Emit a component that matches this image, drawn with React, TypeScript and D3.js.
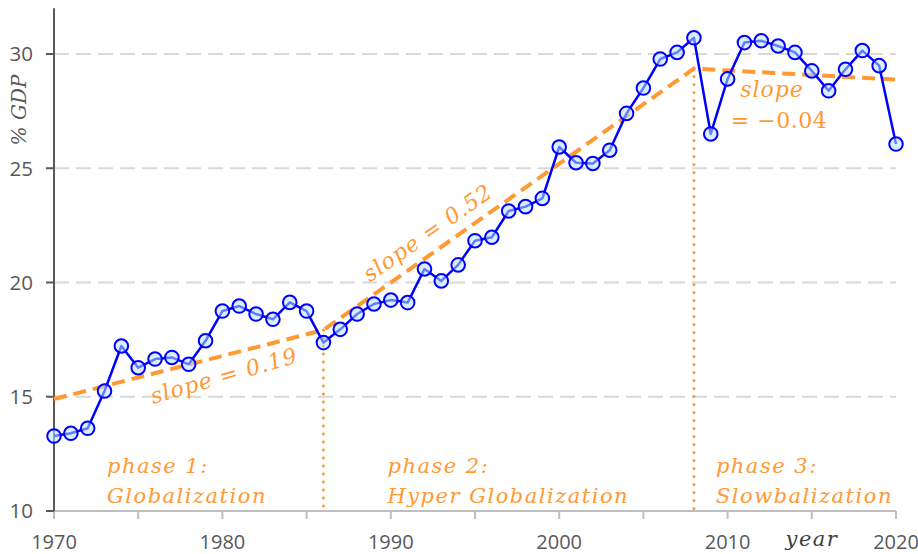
import React from "react";
import * as d3 from "d3";

const years: number[] = d3.range(1970, 2021);
const tradeShare: number[] = [
  13.28, 13.4, 13.62, 15.25, 17.22, 16.27, 16.65, 16.72, 16.42, 17.45,
  18.75, 18.97, 18.62, 18.39, 19.13, 18.75, 17.37, 17.95, 18.62, 19.06,
  19.23, 19.12, 20.59, 20.07, 20.77, 21.83, 21.98, 23.13, 23.32, 23.68,
  25.93, 25.24, 25.21, 25.79, 27.4, 28.51, 29.78, 30.07, 30.71, 26.5,
  28.91, 30.5, 30.58, 30.35, 30.07, 29.26, 28.39, 29.33, 30.15, 29.49,
  26.06,
];
const trendYears: number[] = [1970, 1986, 2008, 2020];
const trendValues: number[] = [14.9, 17.92, 29.36, 28.88];
const phaseBreaks: number[] = [1986, 2008];
const yTicks: number[] = [10, 15, 20, 25, 30];
const xMajorTicks: number[] = [1970, 1980, 1990, 2000, 2010, 2020];
const xMinorTicks: number[] = d3.range(1970, 2021, 5);
const phaseLabels: { year: number; lines: string[] }[] = [
  { year: 1970, lines: ["phase 1:", "Globalization"] },
  { year: 1986, lines: ["phase 2:", "Hyper Globalization"] },
  { year: 2008, lines: ["phase 3:", "Slowbalization"] },
];

const ORANGE = "#ff9933";
const BLUE = "#0000ff";
const AXIS = "#595959";
const SERIF = "'DejaVu Serif', 'Liberation Serif', serif";
const SANS = "'Open Sans', 'Noto Sans', sans-serif";

export default function App() {
  const W = 918;
  const H = 554;
  const x = d3.scaleLinear().domain([1970, 2020]).range([54, 896]);
  const y = d3.scaleLinear().domain([10, 32]).range([511, 8.3]);

  const line = d3
    .line<number>()
    .x((_, i) => x(years[i]))
    .y((d) => y(d));
  const trendLine = d3
    .line<number>()
    .x((_, i) => x(trendYears[i]))
    .y((d) => y(d));

  const trendAt = (yr: number) => trendValues[trendYears.indexOf(yr)];

  const phaseOffsets = [53, 64, 22];

  return (
    <svg
      width={W}
      height={H}
      style={{ position: "absolute", left: 0, top: 0, background: "#fff" }}
    >
      {/* grid */}
      {yTicks
        .filter((t) => t > 10)
        .map((t) => (
          <line
            key={"g" + t}
            x1={x(1970)}
            x2={x(2020)}
            y1={y(t)}
            y2={y(t)}
            stroke="#d9d9d9"
            strokeWidth={2}
            strokeDasharray="15,7"
          />
        ))}

      {/* x axis */}
      <line x1={x(1970)} x2={x(2020)} y1={y(10)} y2={y(10)} stroke="#bfbfbf" strokeWidth={2} />
      {xMinorTicks.map((t) => (
        <line key={"xt" + t} x1={x(t)} x2={x(t)} y1={y(10)} y2={y(10) + 8} stroke="#bfbfbf" strokeWidth={2} />
      ))}
      {xMajorTicks.map((t) => (
        <text
          key={"xl" + t}
          x={x(t)}
          y={549}
          textAnchor="middle"
          fontFamily={SANS}
          fontSize={20}
          fill={AXIS}
        >
          {t}
        </text>
      ))}

      {/* y axis */}
      <line x1={x(1970)} x2={x(1970)} y1={y(32)} y2={y(10)} stroke={AXIS} strokeWidth={2} />
      {yTicks.map((t) => (
        <g key={"yt" + t}>
          <line x1={x(1970) - 8} x2={x(1970)} y1={y(t)} y2={y(t)} stroke={AXIS} strokeWidth={2} />
          <text
            x={33}
            y={y(t)}
            dy="0.36em"
            textAnchor="end"
            fontFamily={SANS}
            fontSize={20.5}
            fill={AXIS}
          >
            {t}
          </text>
        </g>
      ))}

      {/* axis titles */}
      <text
        transform={`translate(26,110) rotate(-90)`}
        textAnchor="middle"
        fontFamily={SERIF}
        fontStyle="italic"
        fontSize={20}
        fill={AXIS}
      >
        % GDP
      </text>
      <text
        x={812}
        y={546}
        textAnchor="middle"
        fontFamily={SERIF}
        fontStyle="italic"
        fontSize={21}
        fill="#404040"
        letterSpacing={1.5}
      >
        year
      </text>

      {/* phase dividers */}
      {phaseBreaks.map((b) => (
        <line
          key={"pb" + b}
          x1={x(b)}
          x2={x(b)}
          y1={y(trendAt(b))}
          y2={y(10)}
          stroke={ORANGE}
          strokeWidth={3}
          strokeDasharray="0,8"
          strokeLinecap="round"
        />
      ))}

      {/* trend */}
      <path
        d={trendLine(trendValues) || ""}
        fill="none"
        stroke={ORANGE}
        strokeWidth={4}
        strokeDasharray="13,7"
      />

      {/* data */}
      <path d={line(tradeShare) || ""} fill="none" stroke={BLUE} strokeWidth={2.5} strokeLinejoin="round" />
      {tradeShare.map((v, i) => (
        <circle
          key={"c" + i}
          cx={x(years[i])}
          cy={y(v)}
          r={6.8}
          fill="#b8e2ff"
          fillOpacity={0.55}
          stroke={BLUE}
          strokeWidth={2}
        />
      ))}

      {/* slope labels */}
      <text
        transform={`translate(226,383) rotate(-16)`}
        textAnchor="middle"
        fontFamily={SERIF}
        fontStyle="italic"
        fontSize={22}
        fill={ORANGE}
        letterSpacing={1}
      >
        slope = 0.19
      </text>
      <text
        transform={`translate(432,239) rotate(-35)`}
        textAnchor="middle"
        fontFamily={SERIF}
        fontStyle="italic"
        fontSize={22}
        fill={ORANGE}
        letterSpacing={1}
      >
        slope = 0.52
      </text>
      <text x={772} y={97} textAnchor="middle" fontFamily={SERIF} fontStyle="italic" fontSize={22} fill={ORANGE} letterSpacing={1}>
        slope
      </text>
      <text x={779} y={128} textAnchor="middle" fontFamily={SERIF} fontSize={22} fill={ORANGE} letterSpacing={0.5}>
        = −0.04
      </text>

      {/* phase labels */}
      {phaseLabels.map((p, i) => (
        <text
          key={"pl" + i}
          fontFamily={SERIF}
          fontStyle="italic"
          fontSize={21}
          fill={ORANGE}
          letterSpacing={1.5}
        >
          {p.lines.map((l, j) => (
            <tspan key={j} x={x(p.year) + phaseOffsets[i]} y={473 + j * 30}>
              {l}
            </tspan>
          ))}
        </text>
      ))}
    </svg>
  );
}
